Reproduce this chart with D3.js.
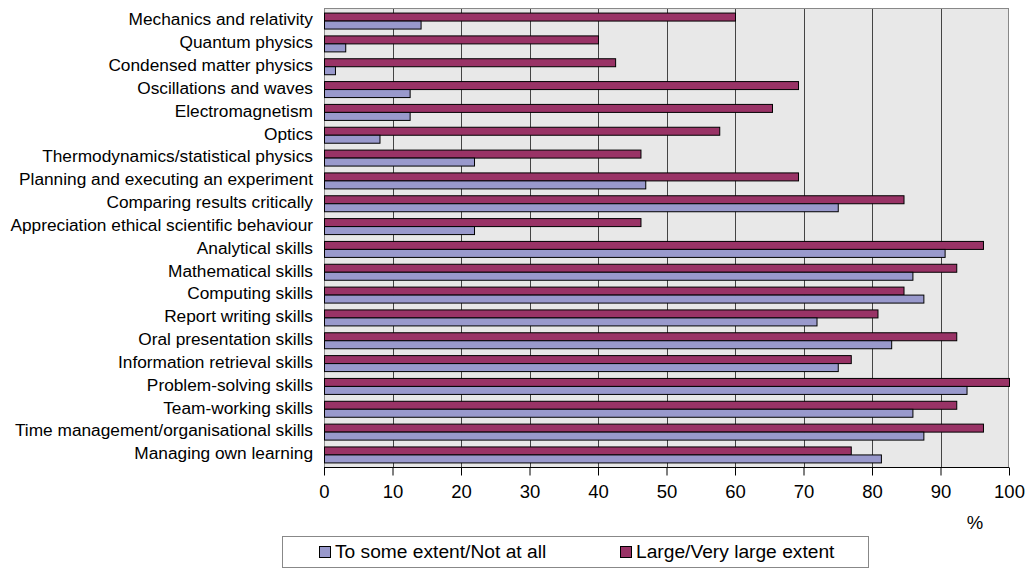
<!DOCTYPE html>
<html>
<head>
<meta charset="utf-8">
<script src="https://cdn.jsdelivr.net/npm/d3@7"></script>
<style>
  html, body { margin: 0; padding: 0; background: #fff; }
  svg { display: block; font-family: "Liberation Sans", Arial, sans-serif; }
</style>
</head>
<body>
<svg id="chart" width="1032" height="570"></svg>
<script>
// Skills and subject areas, top to bottom
const categories = [
  "Mechanics and relativity",
  "Quantum physics",
  "Condensed matter physics",
  "Oscillations and waves",
  "Electromagnetism",
  "Optics",
  "Thermodynamics/statistical physics",
  "Planning and executing an experiment",
  "Comparing results critically",
  "Appreciation ethical scientific behaviour",
  "Analytical skills",
  "Mathematical skills",
  "Computing skills",
  "Report writing skills",
  "Oral presentation skills",
  "Information retrieval skills",
  "Problem-solving skills",
  "Team-working skills",
  "Time management/organisational skills",
  "Managing own learning"
];

// Percentages, "Large/Very large extent"
const largeExtent = [60, 40, 42.5, 69.2, 65.4, 57.7, 46.2, 69.2, 84.6, 46.2,
                     96.2, 92.3, 84.6, 80.8, 92.3, 76.9, 100, 92.3, 96.2, 76.9];

// Percentages, "To some extent/Not at all"
const someExtent = [14.1, 3.1, 1.6, 12.5, 12.5, 8.1, 21.9, 46.9, 75.0, 21.9,
                    90.6, 85.9, 87.5, 71.9, 82.8, 75.0, 93.8, 85.9, 87.5, 81.3];

const seriesNames = ["To some extent/Not at all", "Large/Very large extent"];
const seriesColors = ["#9999CC", "#993366"];
const xTicks = [0, 10, 20, 30, 40, 50, 60, 70, 80, 90, 100];

const svg = d3.select("#chart");
const plot = { left: 324, right: 1009, top: 8, bottom: 467 };

const x = d3.scaleLinear().domain([0, 100]).range([plot.left, plot.right]);
const y = d3.scaleBand().domain(categories).range([plot.top, plot.bottom]).paddingInner(0.3).paddingOuter(0.2);
const sub = d3.scaleBand().domain(["large", "some"]).range([0, y.bandwidth()]);

// Plot area background
svg.append("rect")
  .attr("x", plot.left).attr("y", plot.top)
  .attr("width", plot.right - plot.left).attr("height", plot.bottom - plot.top)
  .attr("fill", "#E8E8E8");

// Vertical gridlines
svg.append("g").selectAll("line")
  .data(xTicks.slice(1, -1))
  .join("line")
  .attr("x1", d => Math.round(x(d)) + 0.5).attr("x2", d => Math.round(x(d)) + 0.5)
  .attr("y1", plot.top).attr("y2", plot.bottom)
  .attr("stroke", "#444").attr("stroke-width", 1);

// Plot area border
svg.append("rect")
  .attr("x", plot.left + 0.5).attr("y", plot.top + 0.5)
  .attr("width", plot.right - plot.left - 1).attr("height", plot.bottom - plot.top)
  .attr("fill", "none").attr("stroke", "#888");

// Bars
const rows = svg.append("g").selectAll("g")
  .data(categories.map((c, i) => ({ c, large: largeExtent[i], some: someExtent[i] })))
  .join("g")
  .attr("transform", d => `translate(0,${y(d.c)})`);

rows.append("rect")
  .attr("x", x(0) + 0.5)
  .attr("y", sub("large") + 0.5)
  .attr("width", d => x(d.large) - x(0))
  .attr("height", sub.bandwidth())
  .attr("fill", seriesColors[1]).attr("stroke", "#000").attr("stroke-width", 1);

rows.append("rect")
  .attr("x", x(0) + 0.5)
  .attr("y", sub("some") + 0.5)
  .attr("width", d => x(d.some) - x(0))
  .attr("height", sub.bandwidth())
  .attr("fill", seriesColors[0]).attr("stroke", "#000").attr("stroke-width", 1);

// Category axis (labels only)
const yAxis = svg.append("g")
  .attr("transform", `translate(${plot.left},0)`)
  .call(d3.axisLeft(y).tickSize(0).tickPadding(11));
yAxis.select(".domain").remove();
yAxis.selectAll("text").attr("font-size", 17.3).attr("fill", "#000")
  .attr("dy", "0.28em")
  .attr("font-family", "Liberation Sans, Arial, sans-serif");

// Value axis
const xAxis = svg.append("g")
  .attr("transform", `translate(0,${plot.bottom + 0.5})`)
  .call(d3.axisBottom(x).tickValues(xTicks).tickSize(8).tickPadding(9).tickFormat(d3.format("d")));
xAxis.select(".domain").attr("stroke", "#000").attr("d", `M${plot.left},0H${plot.right}`);
xAxis.selectAll(".tick line").attr("stroke", "#000");
xAxis.selectAll("text").attr("font-size", 18.5).attr("fill", "#000")
  .attr("font-family", "Liberation Sans, Arial, sans-serif");

// Axis unit
svg.append("text")
  .attr("x", 975).attr("y", 529)
  .attr("text-anchor", "middle")
  .attr("font-size", 18.5)
  .text("%");

// Legend
const legend = svg.append("g");
legend.append("rect")
  .attr("x", 282.5).attr("y", 536.5).attr("width", 586).attr("height", 31)
  .attr("fill", "#fff").attr("stroke", "#888");
const legendX = [319, 620];
seriesNames.forEach((name, i) => {
  legend.append("rect")
    .attr("x", legendX[i] + 0.5).attr("y", 546.5).attr("width", 11).attr("height", 11)
    .attr("fill", seriesColors[i]).attr("stroke", "#000");
  legend.append("text")
    .attr("x", legendX[i] + 16).attr("y", 558)
    .attr("font-size", 19.2)
    .text(name);
});
</script>
</body>
</html>
